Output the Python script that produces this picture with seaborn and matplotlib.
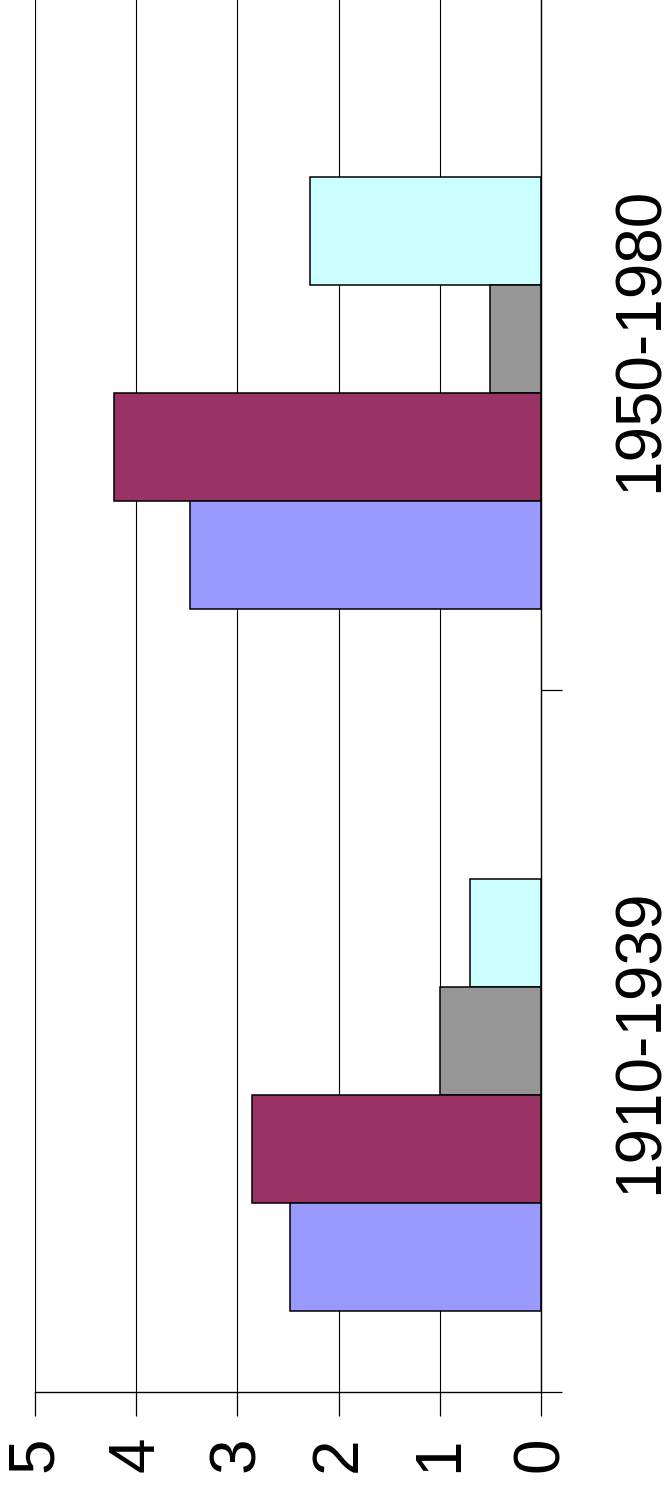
import numpy as np
import pandas as pd
import seaborn as sns
from matplotlib import pyplot as plt

# chart data (drawn as a rotated Excel-style column chart)
periods = ['1910-1939', '1950-1980']
series_names = ['S1', 'S2', 'S3', 'S4', 'S5']
s1_values = [2.48, 3.47]
s2_values = [2.86, 4.22]
s3_values = [1.00, 0.50]
s4_values = [0.70, 2.28]
s5_values = [np.nan, np.nan]   # empty series, only takes a slot
colors = ['#9999FF', '#993366', '#969696', '#CCFFFF', '#FFFFFF']
value_ticks = [0, 1, 2, 3, 4, 5]

rows = []
for name, vals in zip(series_names, [s1_values, s2_values, s3_values, s4_values, s5_values]):
    for period, v in zip(periods, vals):
        rows.append({'period': period, 'series': name, 'value': v})
df = pd.DataFrame(rows)

sns.set_style('white')
plt.rcParams['font.family'] = ['Liberation Sans', 'DejaVu Sans']

fig = plt.figure(figsize=(6.68, 14.96), dpi=100)
ax = fig.add_axes([35 / 668, 104 / 1496, 506 / 668, 1404 / 1496])

# top-to-bottom inside a group: empty, cyan, gray, maroon, blue
hue_order = series_names[::-1]
palette = dict(zip(series_names, colors))
sns.barplot(data=df, y='period', x='value', hue='series', order=periods[::-1],
            hue_order=hue_order, palette=palette, orient='h', width=540 / 702,
            edgecolor='black', linewidth=1.1, saturation=1, legend=False, ax=ax)

ax.set_xlim(5, 0)
ax.set_ylim(1.5, -0.5)
ax.set_xticks(value_ticks)
ax.set_xticklabels([str(t) for t in value_ticks], rotation=90, fontsize=46)
ax.tick_params(axis='x', direction='out', length=17, width=0.9, color='black',
               labelcolor='black', pad=15, bottom=True)
ax.xaxis.grid(True, color='black', linewidth=0.8)
ax.yaxis.grid(False)

ax.yaxis.tick_right()
ax.set_yticks([-0.5, 0.5, 1.5])
ax.set_yticklabels([])
ax.set_yticks([0, 1], minor=True)
ax.set_yticklabels(periods[::-1], minor=True, rotation=90, fontsize=46, va='center')
ax.tick_params(axis='y', which='major', direction='out', length=15, width=0.9, color='black', right=True)
ax.tick_params(axis='y', which='minor', length=0, pad=50, right=True, labelcolor='black')

for side in ['top', 'left']:
    ax.spines[side].set_visible(False)
for side in ['bottom', 'right']:
    ax.spines[side].set_color('black')
    ax.spines[side].set_linewidth(1.0)
ax.set_xlabel('')
ax.set_ylabel('')

fig.savefig('out.png', dpi=100, facecolor='white')
